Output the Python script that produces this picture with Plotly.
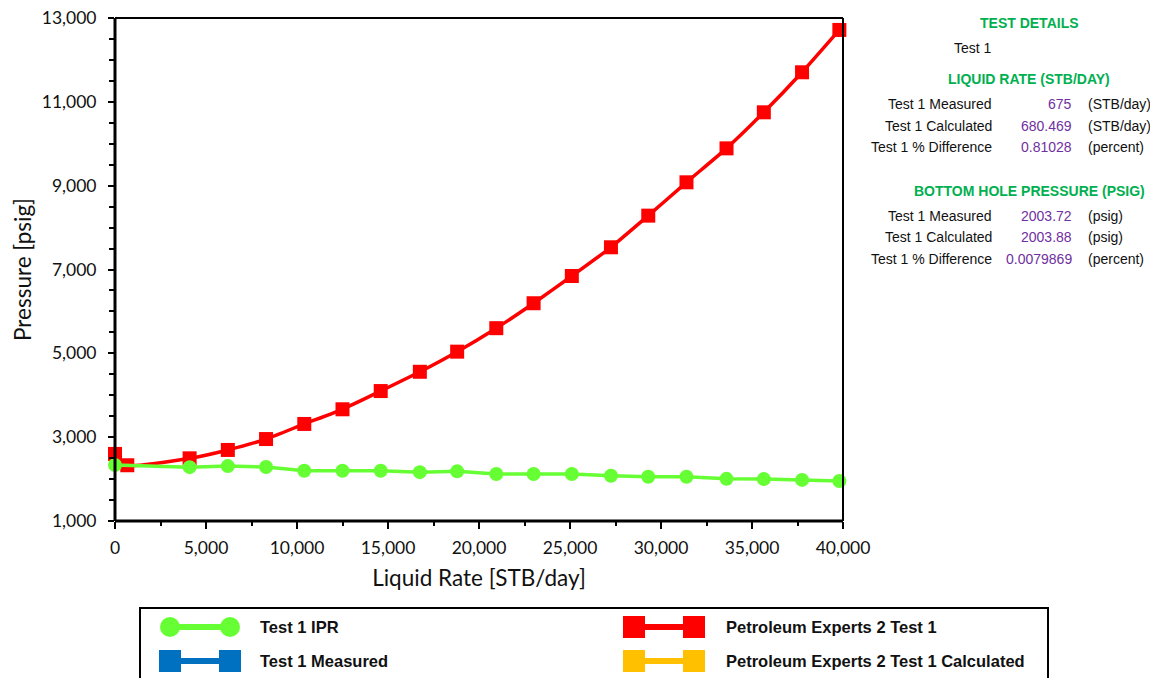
import plotly.graph_objects as go

# IPR curve (Test 1)
ipr_rate = [0, 4100, 6200, 8300, 10400, 12500, 14600, 16750, 18800, 20950,
            23000, 25100, 27250, 29300, 31400, 33600, 35650, 37750, 39800]
ipr_pwf = [2335, 2285, 2310, 2290, 2200, 2200, 2200, 2165, 2185, 2120,
           2120, 2120, 2080, 2055, 2055, 2005, 2000, 1980, 1955]

# VLP curve (Petroleum Experts 2 Test 1)
vlp_rate = [0, 675, 4100, 6200, 8300, 10400, 12500, 14600, 16750, 18800,
            20950, 23000, 25100, 27250, 29300, 31400, 33600, 35650, 37750, 39800]
vlp_pwf = [2600, 2330, 2495, 2695, 2955, 3315, 3665, 4100, 4560, 5040,
           5600, 6195, 6845, 7530, 8285, 9080, 9890, 10750, 11705, 12715]

# Side panel content
liquid_rows = [("Test 1 Measured", "675", "(STB/day)"),
               ("Test 1 Calculated", "680.469", "(STB/day)"),
               ("Test 1 % Difference", "0.81028", "(percent)")]
bhp_rows = [("Test 1 Measured", "2003.72", "(psig)"),
            ("Test 1 Calculated", "2003.88", "(psig)"),
            ("Test 1 % Difference", "0.0079869", "(percent)")]

legend_items = [("Test 1 IPR", "#66FF33", "circle", 0, 0),
                ("Test 1 Measured", "#0070C0", "square", 0, 1),
                ("Petroleum Experts 2 Test 1", "#FF0000", "square", 1, 0),
                ("Petroleum Experts 2 Test 1 Calculated", "#FFC000", "square", 1, 1)]

RED = "#FF0000"
GREEN = "#66FF33"
HEAD = "#00B050"
VAL = "#7030A0"

# plot-area geometry in pixels
L, R, T, B = 115, 843, 18, 521
W, H = 1150, 678


def px(x):
    return (x - L) / (R - L)


def py(y):
    return (B - y) / (B - T)


fig = go.Figure()

fig.add_trace(go.Scatter(
    x=vlp_rate, y=vlp_pwf, mode="lines+markers", name="Petroleum Experts 2 Test 1",
    line=dict(color=RED, width=3.5, shape="spline", smoothing=0.5),
    marker=dict(symbol="square", size=14, color=RED),
    cliponaxis=False, showlegend=False))

fig.add_trace(go.Scatter(
    x=ipr_rate, y=ipr_pwf, mode="lines+markers", name="Test 1 IPR",
    line=dict(color=GREEN, width=3.5),
    marker=dict(symbol="circle", size=14, color=GREEN),
    cliponaxis=False, showlegend=False))

tick_font = dict(family="Lato, Open Sans, sans-serif", size=17.5, color="#111111")
title_font = dict(family="Lato, Open Sans, sans-serif", size=22.5, color="#111111")

fig.update_xaxes(
    range=[0, 40000], tick0=0, dtick=5000, tickformat=",d",
    ticks="outside", ticklen=7, tickwidth=2, tickcolor="black",
    minor=dict(dtick=2500, ticks="outside", ticklen=4, tickwidth=2, tickcolor="black"),
    showline=False, showgrid=False, zeroline=False, automargin=False,
    tickfont=tick_font, ticklabelstandoff=4,
    title=dict(text="Liquid Rate [STB/day]", font=title_font, standoff=13))

fig.update_yaxes(
    range=[1000, 13000], tick0=1000, dtick=2000, tickformat=",d",
    ticks="outside", ticklen=6, tickwidth=2, tickcolor="black",
    minor=dict(dtick=500, ticks="outside", ticklen=5, tickwidth=2, tickcolor="black"),
    showline=False, showgrid=False, zeroline=False, automargin=False,
    tickfont=tick_font, ticklabelstandoff=8,
    title=dict(text="Pressure [psig]", font=title_font, standoff=3))

shapes = [
    # frame: heavy left/bottom axes, lighter top/right border
    dict(type="line", xref="paper", yref="paper", x0=0, x1=1, y0=1, y1=1,
         line=dict(color="black", width=2)),
    dict(type="line", xref="paper", yref="paper", x0=1, x1=1, y0=0, y1=1,
         line=dict(color="black", width=2)),
    dict(type="line", xref="paper", yref="paper", x0=0, x1=0, y0=0, y1=1,
         line=dict(color="black", width=3)),
    dict(type="line", xref="paper", yref="paper", x0=0, x1=1, y0=0, y1=0,
         line=dict(color="black", width=3)),
    # legend frame
    dict(type="rect", xref="paper", yref="paper", x0=px(140), x1=px(1048),
         y0=py(720), y1=py(608), line=dict(color="black", width=2)),
]

annotations = []

# legend swatches and labels
for label, color, sym, col, row in legend_items:
    cy = 627 + row * 34
    if col == 0:
        xa, xb, tx = 170, 230, 258
    else:
        xa, xb, tx = 634, 694, 724
    shapes.append(dict(type="line", xref="paper", yref="paper",
                       x0=px(xa), x1=px(xb), y0=py(cy), y1=py(cy),
                       line=dict(color=color, width=6)))
    for cx in (xa, xb):
        if sym == "circle":
            r = 10
            shapes.append(dict(type="circle", xref="paper", yref="paper",
                               x0=px(cx - r), x1=px(cx + r), y0=py(cy + r), y1=py(cy - r),
                               fillcolor=color, line=dict(width=0)))
        else:
            r = 11
            shapes.append(dict(type="rect", xref="paper", yref="paper",
                               x0=px(cx - r), x1=px(cx + r), y0=py(cy + r), y1=py(cy - r),
                               fillcolor=color, line=dict(width=0)))
    annotations.append(dict(
        xref="paper", yref="paper", x=px(tx), y=py(cy), xanchor="left", yanchor="middle",
        text=f"<b>{label}</b>", showarrow=False,
        font=dict(family="Liberation Sans Narrow, Arial Narrow, Liberation Sans, sans-serif",
                  size=16.5, color="#111111")))

# side panel
panel_font = "Liberation Sans, Arial, sans-serif"


def head(text, y):
    annotations.append(dict(
        xref="paper", yref="paper", x=px(1029), y=py(y), xanchor="center", yanchor="middle",
        text=f"<b>{text}</b>", showarrow=False,
        font=dict(family=panel_font, size=14, color=HEAD)))


def row(label, value, unit, y):
    annotations.append(dict(
        xref="paper", yref="paper", x=px(994), y=py(y), xanchor="right", yanchor="middle",
        text=label, showarrow=False, font=dict(family=panel_font, size=14, color="#111111")))
    if value:
        annotations.append(dict(
            xref="paper", yref="paper", x=px(1074), y=py(y), xanchor="right", yanchor="middle",
            text=value, showarrow=False, font=dict(family=panel_font, size=14, color=VAL)))
    if unit:
        annotations.append(dict(
            xref="paper", yref="paper", x=px(1086), y=py(y), xanchor="left", yanchor="middle",
            text=unit, showarrow=False, font=dict(family=panel_font, size=14, color="#111111")))


head("TEST DETAILS", 23)
row("Test 1", "", "", 48)
head("LIQUID RATE (STB/DAY)", 79)
for i, (a, b, c) in enumerate(liquid_rows):
    row(a, b, c, 104 + i * 21.5)
head("BOTTOM HOLE PRESSURE (PSIG)", 191)
for i, (a, b, c) in enumerate(bhp_rows):
    row(a, b, c, 216 + i * 21.5)

fig.update_layout(
    width=W, height=H, autosize=False,
    margin=dict(l=L, r=W - R, t=T, b=H - B, pad=0, autoexpand=False),
    paper_bgcolor="white", plot_bgcolor="white",
    showlegend=False, shapes=shapes, annotations=annotations)

fig.write_html("out.html")
